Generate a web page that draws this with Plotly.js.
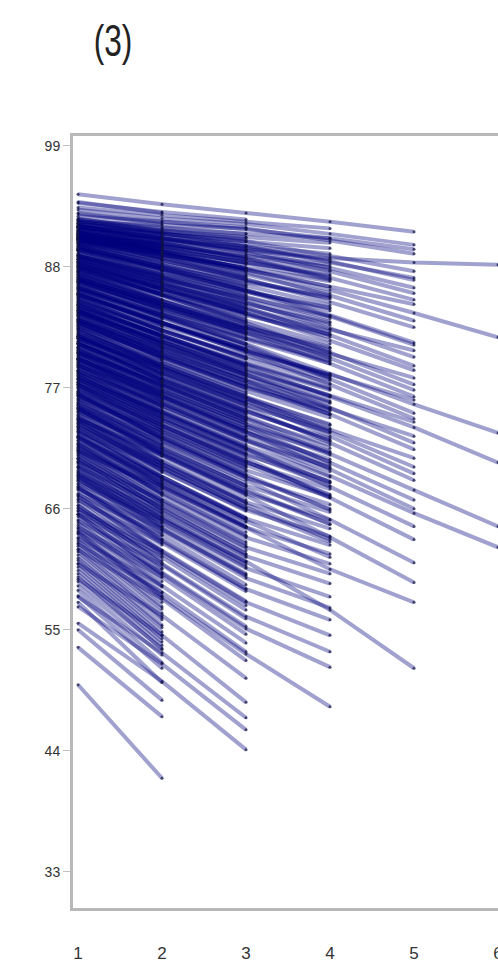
<!DOCTYPE html>
<html><head><meta charset="utf-8">
<script src="https://cdn.plot.ly/plotly-3.0.1.min.js"></script>
<style>html,body{margin:0;padding:0;overflow:hidden;background:#fff;width:498px;height:967px}#chart{width:700px;height:967px}</style>
</head><body><div id="chart"></div>
<script>
// visit positions and y tick labels
const visitLabels = [1, 2, 3, 4, 5, 6, 7, 8];
const yTicks = [33, 44, 55, 66, 77, 88, 99];
const panelTitle = '(3)';

// subjects ordered by number of visits (6-visit subjects first ... 2-visit subjects last)
// visitK[i] = value of subject i at visit K (shorter arrays = subject dropped out)
const visit1 = [
 91.6,91.0,86.0,84.3,80.2,78.5,
 94.6,93.2,92.1,92.0,91.7,91.4,90.5,89.9,89.0,88.4,87.7,87.0,86.0,83.2,81.8,81.0,79.6,77.8,75.2,74.2,71.3,69.0,92.0,90.8,88.2,86.8,85.4,83.9,83.0,81.5,
 92.8,92.2,91.7,90.9,89.8,88.7,87.2,85.5,83.8,81.7,79.3,77.3,
 93.4,92.3,91.9,91.6,91.3,91.0,90.8,90.6,90.4,91.8,91.5,91.2,90.8,90.5,90.2,89.9,89.5,89.1,88.7,88.4,88.0,87.6,87.1,86.7,86.3,85.8,85.2,84.8,84.3,83.8,83.3,82.7,82.2,81.6,81.1,80.6,80.0,79.5,78.9,78.3,77.8,77.2,76.6,76.0,75.4,74.8,74.1,73.5,72.9,72.2,71.5,70.8,70.2,69.4,68.8,68.0,67.2,66.3,65.5,63.8,
 90.0,89.6,88.9,88.1,87.4,86.5,85.6,84.6,84.0,83.1,82.4,81.3,80.8,79.7,79.0,78.0,77.4,76.3,75.1,73.8,87.0,85.0,82.9,80.2,78.6,
 91.0,90.4,89.6,89.0,88.3,87.6,86.9,86.1,85.3,84.5,83.6,82.8,81.9,81.0,80.1,79.2,78.2,77.3,76.3,75.2,74.0,88.7,86.4,84.0,81.5,79.6,77.0,90.7,83.2,72.6,
 93.8,92.6,92.3,91.9,91.6,91.3,91.0,90.8,90.5,90.3,90.1,
 90.9,90.6,90.3,89.8,89.5,89.0,88.5,88.1,87.8,87.5,86.9,86.6,85.9,85.5,84.8,84.4,84.0,83.8,83.2,82.6,82.0,81.5,81.0,80.3,80.2,79.6,79.0,78.5,77.9,77.5,76.7,76.3,76.0,75.5,74.8,74.2,73.4,73.0,72.4,72.0,71.6,71.2,70.3,69.8,69.2,68.6,68.3,67.8,67.3,66.8,66.0,65.8,65.5,64.9,64.3,64.0,63.3,62.8,62.3,61.0,59.6,58.0,57.1,55.6,
 91.0,90.7,90.1,89.7,89.2,88.8,88.3,87.9,87.2,86.8,86.2,85.7,85.1,84.6,84.1,83.4,82.9,82.3,81.8,81.2,80.5,79.9,79.3,78.8,78.1,77.6,76.9,76.4,75.6,75.0,74.4,73.7,73.1,72.5,71.8,71.0,70.5,69.7,68.9,68.0,
 92.2,91.7,91.2,90.6,90.2,89.5,89.0,88.5,87.9,87.3,86.7,86.1,85.5,84.9,84.2,83.6,83.0,82.4,81.7,81.0,80.4,79.7,79.1,78.4,77.8,77.1,76.5,75.8,75.2,74.5,73.9,73.2,72.6,71.9,71.3,70.6,69.9,69.1,88.0,80.7,
 93.9,92.9,92.4,92.0,91.7,91.5,91.3,91.1,90.9,90.8,90.6,
 91.2,91.1,90.9,90.6,90.4,90.2,89.9,89.7,89.4,89.2,88.9,88.7,88.5,88.2,88.0,87.8,87.5,87.3,87.0,86.8,86.6,86.3,86.1,85.9,85.6,85.4,85.2,84.9,84.7,84.5,84.2,84.0,83.7,83.5,83.2,83.0,82.7,82.5,82.2,82.0,81.7,81.5,81.2,81.0,80.7,80.4,80.2,79.9,79.7,79.4,79.1,78.9,78.6,78.3,78.1,77.8,77.5,77.3,77.0,76.7,76.5,76.2,75.9,75.7,75.4,75.1,74.9,74.6,74.3,74.1,73.8,73.5,73.3,73.0,72.7,72.5,72.2,71.9,71.7,71.4,71.1,70.9,70.6,70.3,70.1,69.8,69.5,69.3,69.0,68.7,68.5,68.2,67.9,67.7,67.4,67.1,66.9,66.6,66.3,66.1,65.8,65.5,65.3,65.0,64.7,64.5,64.2,63.9,63.7,63.4,63.1,62.9,62.6,62.3,62.1,61.8,61.5,61.3,61.0,60.7,60.4,60.1,59.8,59.4,59.0,58.6,58.1,57.5,55.0,53.4,50.0
];
const visit2 = [
 90.5,89.5,83.6,81.8,77.3,75.4,
 93.7,92.4,91.8,91.0,90.6,90.2,88.8,88.0,87.0,86.2,85.4,84.6,83.4,80.5,79.0,78.2,76.6,74.7,72.0,70.8,67.9,65.2,90.9,89.2,86.1,84.5,82.9,81.2,80.2,78.6,
 92.1,91.1,90.6,89.3,87.9,86.6,84.9,82.9,81.0,78.8,76.2,74.0,
 92.7,91.5,91.2,91.0,90.7,90.4,90.1,89.9,89.7,90.2,89.8,89.4,89.0,88.6,88.2,87.8,87.3,86.8,86.3,85.9,85.4,84.9,84.4,83.9,83.4,82.9,82.2,81.7,81.2,80.6,80.1,79.5,78.9,78.3,77.7,77.2,76.5,76.0,75.3,74.7,74.1,73.5,72.8,72.2,71.5,70.9,70.1,69.4,68.7,68.0,67.2,66.4,65.7,64.7,64.0,63.1,62.1,61.0,60.1,58.0,
 88.3,87.6,86.9,85.8,84.9,83.9,82.8,81.7,80.9,79.9,79.1,77.9,77.4,76.1,75.4,74.3,73.6,72.4,71.1,69.7,84.6,82.2,79.8,76.8,74.9,
 90.0,89.1,88.0,87.3,86.4,85.5,84.6,83.7,82.7,81.8,80.8,79.8,78.8,77.8,76.8,75.8,74.6,73.6,72.5,71.3,70.0,86.9,84.1,81.2,78.4,76.3,73.3,89.6,80.3,68.5,
 93.0,92.1,91.6,91.3,91.0,90.6,90.3,90.0,89.6,89.4,89.2,
 89.3,89.0,88.6,88.0,87.6,87.0,86.5,86.0,85.5,85.4,84.6,84.3,83.6,83.0,82.4,81.8,81.5,81.2,80.6,79.9,79.3,78.8,78.1,77.5,77.3,76.7,76.2,75.6,74.8,74.3,73.6,73.1,72.9,72.3,71.5,70.9,70.1,69.8,68.9,68.6,68.1,67.8,66.8,66.2,65.6,65.0,64.8,64.1,63.6,62.9,62.2,61.9,61.6,60.9,60.2,59.8,59.0,58.4,57.8,56.3,54.5,52.9,51.9,50.3,
 89.4,88.9,88.2,87.7,87.1,86.6,86.0,85.5,84.7,84.2,83.5,82.9,82.2,81.6,81.0,80.3,79.7,79.0,78.4,77.8,77.1,76.4,75.7,75.1,74.4,73.8,73.0,72.5,71.6,71.0,70.3,69.5,68.9,68.2,67.4,66.6,66.0,65.1,64.2,63.2,
 91.3,90.6,89.9,89.1,88.6,87.8,87.2,86.4,85.8,85.0,84.3,83.7,82.9,82.2,81.4,80.7,80.0,79.3,78.5,77.7,77.0,76.2,75.6,74.8,74.1,73.3,72.6,71.9,71.2,70.4,69.8,68.9,68.3,67.5,66.8,66.0,65.3,64.4,86.0,77.4,
 92.9,91.9,91.2,90.9,90.6,90.5,90.2,90.1,89.9,89.8,89.6,
 89.7,89.3,89.2,88.7,88.8,88.3,87.9,87.8,87.2,87.3,86.7,86.6,86.1,86.0,85.5,85.6,85.0,84.8,84.5,84.1,84.2,83.6,83.3,83.2,82.7,82.6,82.2,82.0,81.6,81.7,81.1,80.9,80.6,80.2,80.1,79.7,79.6,79.1,78.9,78.7,78.2,78.2,77.7,77.6,77.1,76.9,76.5,76.4,75.9,75.8,75.3,75.2,74.8,74.5,74.3,73.9,73.8,73.3,73.1,72.8,72.4,72.3,71.8,71.7,71.2,71.0,70.8,70.3,70.2,69.8,69.5,69.3,68.9,68.7,68.3,68.1,67.8,67.4,67.3,66.8,66.6,66.3,65.9,65.7,65.4,65.0,64.8,64.4,64.3,63.8,63.6,63.2,62.9,62.7,62.2,62.0,61.7,61.3,61.1,60.6,60.5,60.0,59.8,59.4,59.0,58.9,58.4,58.1,57.9,57.5,57.1,56.9,56.5,56.1,55.9,55.4,55.2,54.8,54.5,54.2,53.9,53.6,53.2,53.3,52.7,52.0,51.5,50.2,48.6,47.1,41.5
];
const visit3 = [
 89.6,87.8,81.0,79.0,74.2,72.2,
 92.9,91.9,91.5,90.3,89.5,88.8,86.9,85.9,84.8,83.8,82.9,82.0,80.7,77.6,76.1,75.2,73.5,71.4,68.6,67.2,64.3,61.2,89.8,87.7,84.2,82.3,80.5,78.7,77.6,75.8,
 91.4,89.9,89.3,87.5,85.8,84.3,82.4,80.2,78.2,75.8,73.0,70.6,
 92.1,91.0,90.7,90.3,89.9,89.5,89.1,88.7,88.4,88.7,88.3,87.8,87.3,86.8,86.3,85.9,85.3,84.7,84.1,83.7,83.1,82.6,82.0,81.4,80.9,80.4,79.7,79.1,78.5,77.9,77.3,76.7,76.1,75.4,74.8,74.2,73.5,72.9,72.2,71.5,70.9,70.2,69.5,68.8,68.1,67.4,66.6,65.9,65.1,64.3,63.4,62.5,61.7,60.6,59.7,58.7,57.5,56.2,55.1,52.8,
 86.7,85.8,85.0,83.8,82.7,81.6,80.3,79.2,78.2,77.2,76.2,74.9,74.4,73.0,72.3,71.0,70.3,68.9,67.6,66.1,82.4,79.9,77.0,73.8,71.7,
 89.0,87.9,86.6,85.7,84.6,83.6,82.5,81.5,80.3,79.3,78.2,77.1,76.0,74.9,73.7,72.6,71.4,70.3,69.1,67.8,66.4,85.2,82.0,78.6,75.5,73.2,70.0,88.4,77.7,64.9,
 92.3,91.6,91.0,90.7,90.3,89.9,89.4,88.9,88.4,88.2,87.9,
 87.6,87.2,86.9,86.1,85.5,85.0,84.2,83.8,83.4,83.0,82.3,81.9,81.0,80.5,79.6,79.1,78.8,78.3,77.9,77.0,76.4,75.7,75.1,74.6,74.2,73.8,73.0,72.3,71.5,71.0,70.1,69.8,69.4,68.9,68.0,67.3,66.5,66.0,65.2,64.8,64.4,63.9,63.0,62.2,61.6,61.2,60.7,60.0,59.1,58.5,57.6,57.2,56.8,56.0,55.3,54.6,53.8,53.0,52.2,50.6,48.4,47.0,45.9,44.1,
 87.8,87.1,86.4,85.8,85.1,84.5,83.9,83.2,82.3,81.8,81.0,80.4,79.7,79.0,78.4,77.6,76.9,76.2,75.5,74.8,74.0,73.3,72.6,71.9,71.1,70.4,69.7,69.0,68.1,67.4,66.6,65.8,65.1,64.3,63.5,62.6,61.9,60.9,59.9,58.7,
 90.5,89.6,88.7,87.7,87.0,86.2,85.4,84.6,83.8,82.9,82.1,81.4,80.5,79.8,78.9,78.1,77.3,76.5,75.6,74.7,74.0,73.1,72.4,71.6,70.8,69.9,69.1,68.3,67.6,66.8,66.1,65.1,64.4,63.6,62.8,61.9,61.1,60.1,84.2,74.4
];
const visit4 = [
 88.8,85.9,78.3,76.2,71.0,69.0,
 92.1,91.0,90.4,89.0,87.9,87.0,84.8,83.6,82.4,81.3,80.2,79.2,77.8,74.6,73.0,72.0,70.2,68.0,65.0,63.4,60.5,56.8,88.4,86.2,82.3,80.1,78.2,76.3,75.1,73.2,
 90.6,88.5,87.6,85.4,83.5,81.8,79.7,77.3,75.2,72.6,69.6,67.0,
 91.5,90.6,90.2,89.7,89.2,88.7,88.2,87.7,87.3,86.9,86.8,86.2,85.6,85.1,84.5,84.0,83.3,82.7,82.1,81.6,81.0,80.4,79.8,79.2,77.9,78.1,77.4,76.8,76.2,75.6,75.0,74.3,73.7,73.0,72.4,71.8,71.1,70.5,69.8,68.4,68.5,67.8,67.1,66.4,65.7,65.0,64.2,63.5,62.7,61.9,61.0,60.1,59.2,58.0,57.0,55.9,54.5,53.0,51.6,48.0,
 85.3,84.2,83.0,81.9,80.7,79.5,78.0,76.9,75.7,74.6,73.6,72.2,71.5,70.0,69.4,68.1,67.3,66.0,64.6,63.0,80.2,77.7,74.9,71.2,68.9,
 88.0,86.7,85.2,84.3,82.9,81.8,80.6,79.4,78.2,77.0,75.8,74.6,73.3,72.2,70.9,69.7,68.4,67.2,65.9,64.6,63.2,83.5,79.9,76.3,72.9,70.3,67.0,87.2,75.2,61.6
];
const visit5 = [
 88.4,83.8,75.5,73.4,67.7,65.6,
 91.2,90.0,89.2,87.6,86.1,85.0,82.5,81.1,79.8,78.6,77.3,76.2,74.7,71.4,69.8,68.6,66.8,64.4,61.1,59.3,57.5,51.5,87.0,84.6,80.4,77.9,75.9,73.9,72.6,70.6,
 89.6,86.8,85.6,83.1,80.9,79.0,76.8,74.2,72.0,69.2,66.0,63.2
];
const visit6 = [88.2,81.6,72.9,70.2,64.4,62.5];

const visits = [visit1, visit2, visit3, visit4, visit5, visit6];
const traces = [];
for (let i = 0; i < visit1.length; i++) {
  const xs = [], ys = [];
  for (let k = 0; k < visits.length; k++) {
    if (i < visits[k].length) { xs.push(visitLabels[k]); ys.push(visits[k][i]); }
  }
  traces.push({
    type: 'scatter', mode: 'lines+markers', x: xs, y: ys,
    line: {color: 'rgba(0,0,125,0.37)', width: 4},
    marker: {size: 3, color: 'rgba(20,20,70,0.75)'},
    hoverinfo: 'skip', showlegend: false
  });
}
const fontFam = 'Liberation Sans, Arial, sans-serif';
const layout = {
  width: 700, height: 967,
  margin: {l: 73, r: 20, t: 136, b: 59},
  paper_bgcolor: '#fff', plot_bgcolor: '#fff',
  title: {text: panelTitle, xref: 'container', yref: 'container', x: 113 / 700, xanchor: 'center', y: 1 - 41 / 967, yanchor: 'middle',
          font: {family: fontFam, size: 44, color: '#222'}},
  xaxis: {range: [0.94, 8.166], tickvals: visitLabels, ticks: '', showgrid: false, zeroline: false,
          showline: true, linecolor: '#b8b8b8', linewidth: 3, mirror: true, ticklabelstandoff: 28,
          tickfont: {family: fontFam, size: 17, color: '#333'}},
  yaxis: {range: [29.7, 99.9], tickvals: yTicks, ticks: 'outside', ticklen: 7, tickcolor: '#c0c0c0', tickwidth: 1,
          showgrid: false, zeroline: false, showline: true, linecolor: '#b8b8b8', linewidth: 3, mirror: true,
          tickfont: {family: fontFam, size: 14, color: '#333'}}
};
Plotly.newPlot('chart', traces, layout, {staticPlot: true, displayModeBar: false}).then(function () {
  const t = document.querySelector('.gtitle');
  if (t) { t.style.transformBox = 'fill-box'; t.style.transformOrigin = 'center'; t.style.transform = 'scaleX(0.72)'; }
});
</script></body></html>
